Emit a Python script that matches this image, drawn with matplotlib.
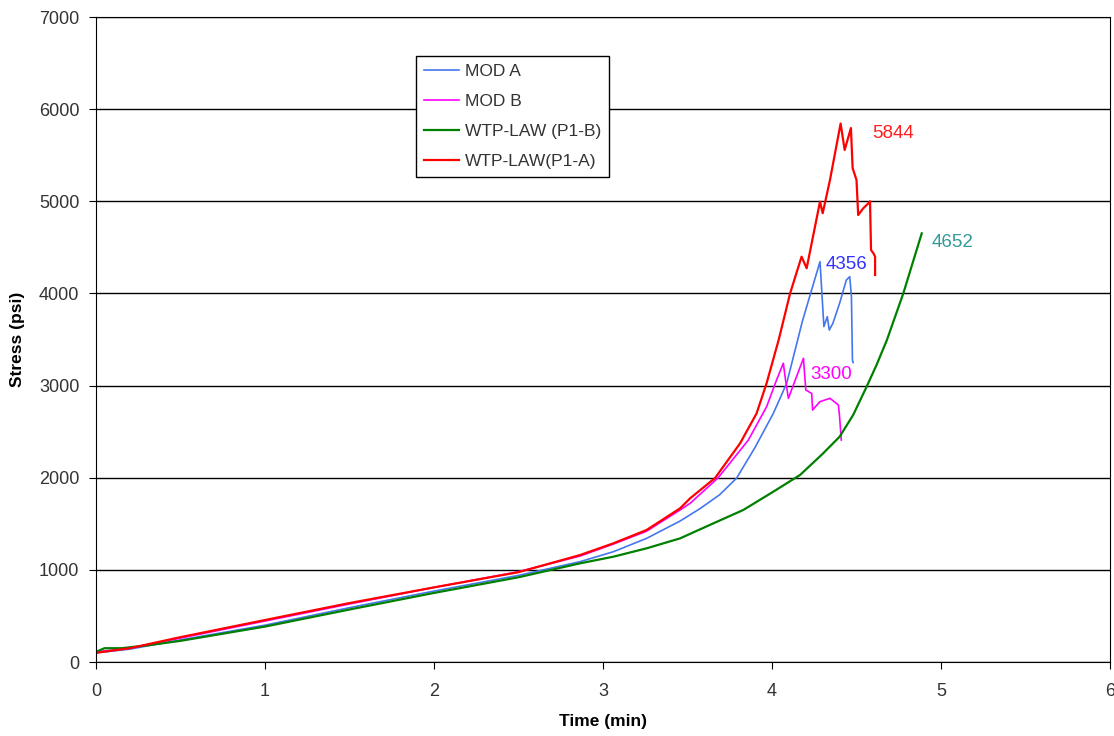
import matplotlib
matplotlib.use("Agg")
import matplotlib.pyplot as plt

plt.rcParams['font.family'] = ['Liberation Sans', 'DejaVu Sans']

# MOD A (blue)
mod_a_t = [0, 0.2, 0.5, 1.0, 1.5, 2.0, 2.5, 2.864, 3.061, 3.258, 3.456, 3.574, 3.69, 3.791,
           3.90, 4.008, 4.087, 4.18, 4.284, 4.30, 4.307, 4.327, 4.339, 4.36, 4.40, 4.44,
           4.46, 4.47, 4.476, 4.48]
mod_a_s = [100, 140, 240, 400, 590, 770, 940, 1089, 1197, 1342, 1530, 1665, 1815, 1997,
           2330, 2699, 3025, 3700, 4345, 3856, 3640, 3748, 3603, 3675, 3893, 4146,
           4182, 3965, 3278, 3250]

# MOD B (magenta)
mod_b_t = [0, 0.2, 0.5, 1.0, 1.5, 2.0, 2.5, 2.864, 3.061, 3.258, 3.456, 3.515, 3.68,
           3.86, 3.968, 4.027, 4.067, 4.08, 4.097, 4.186, 4.20, 4.235, 4.24, 4.283,
           4.343, 4.393, 4.40, 4.41]
mod_b_s = [110, 150, 260, 445, 630, 810, 980, 1150, 1280, 1420, 1650, 1722, 1997,
           2409, 2771, 3061, 3242, 3061, 2862, 3296, 2952, 2915, 2735, 2825,
           2862, 2789, 2660, 2409]

# WTP-LAW (P1-B) (green)
p1b_t = [0, 0.05, 0.15, 0.3, 0.5, 1.0, 1.5, 2.0, 2.5, 2.864, 3.061, 3.258, 3.456, 3.653,
         3.83, 4.0, 4.166, 4.30, 4.40, 4.48, 4.56, 4.62, 4.68, 4.777, 4.886]
p1b_s = [110, 150, 150, 180, 230, 385, 570, 750, 920, 1071, 1143, 1234, 1342, 1505,
         1650, 1840, 2030, 2260, 2445, 2680, 2988, 3230, 3495, 4001, 4652]

# WTP-LAW(P1-A) (red)
p1a_t = [0, 0.2, 0.5, 1.0, 1.5, 2.0, 2.5, 2.864, 3.061, 3.258, 3.456, 3.515, 3.663, 3.811,
         3.909, 3.968, 4.04, 4.107, 4.175, 4.205, 4.284, 4.30, 4.343, 4.406, 4.43,
         4.467, 4.477, 4.50, 4.51, 4.54, 4.57, 4.58, 4.586, 4.60, 4.61, 4.61]
p1a_s = [100, 150, 270, 456, 640, 810, 975, 1161, 1288, 1433, 1668, 1776, 1997, 2373,
         2699, 3025, 3500, 4000, 4399, 4273, 4996, 4870, 5231, 5844, 5557,
         5795, 5361, 5231, 4851, 4924, 4978, 5000, 4471, 4436, 4400, 4200]

fig = plt.figure(figsize=(11.14, 7.36), dpi=100)
ax = fig.add_axes([0.0862, 0.1005, 0.9102, 0.8764])

ax.plot(mod_a_t, mod_a_s, color='#4477EE', lw=1.2, label='MOD A')
ax.plot(mod_b_t, mod_b_s, color='#FF00FF', lw=1.2, label='MOD B')
ax.plot(p1b_t, p1b_s, color='#008000', lw=1.6, label='WTP-LAW (P1-B)')
ax.plot(p1a_t, p1a_s, color='#FF0000', lw=1.6, label='WTP-LAW(P1-A)')

ax.text(4.592, 5740, '5844', color='#FF2020', fontsize=13.5, va='center')
ax.text(4.32, 4309, '4356', color='#3333FF', fontsize=13.5, va='center')
ax.text(4.225, 3115, '3300', color='#FF00FF', fontsize=13.5, va='center')
ax.text(4.947, 4558, '4652', color='#339999', fontsize=13.5, va='center')

ax.set_xlim(0, 6)
ax.set_ylim(0, 7000)
ax.set_xticks(range(0, 7))
ax.set_yticks(range(0, 7001, 1000))
ax.yaxis.grid(True, color='black', lw=1)
ax.set_axisbelow(True)
ax.tick_params(labelsize=13, labelcolor='#333333', length=5, direction='out')
ax.tick_params(axis='x', pad=10)
ax.tick_params(axis='y', pad=7)
for sp in ax.spines.values():
    sp.set_color('black')

ax.set_xlabel('Time (min)', fontsize=12.5, fontweight='bold', labelpad=10)
ax.set_ylabel('Stress (psi)', fontsize=12.5, fontweight='bold', labelpad=10)

leg = ax.legend(loc='upper left', bbox_to_anchor=(0.316, 0.939), fontsize=12.5,
                frameon=True, fancybox=False, framealpha=1, edgecolor='black',
                handlelength=2.0, handletextpad=0.35, borderpad=0.45, labelspacing=0.85,
                borderaxespad=0)
leg.get_frame().set_linewidth(1)
for t in leg.get_texts():
    t.set_color('#333333')

fig.savefig('out.png', dpi=100)
